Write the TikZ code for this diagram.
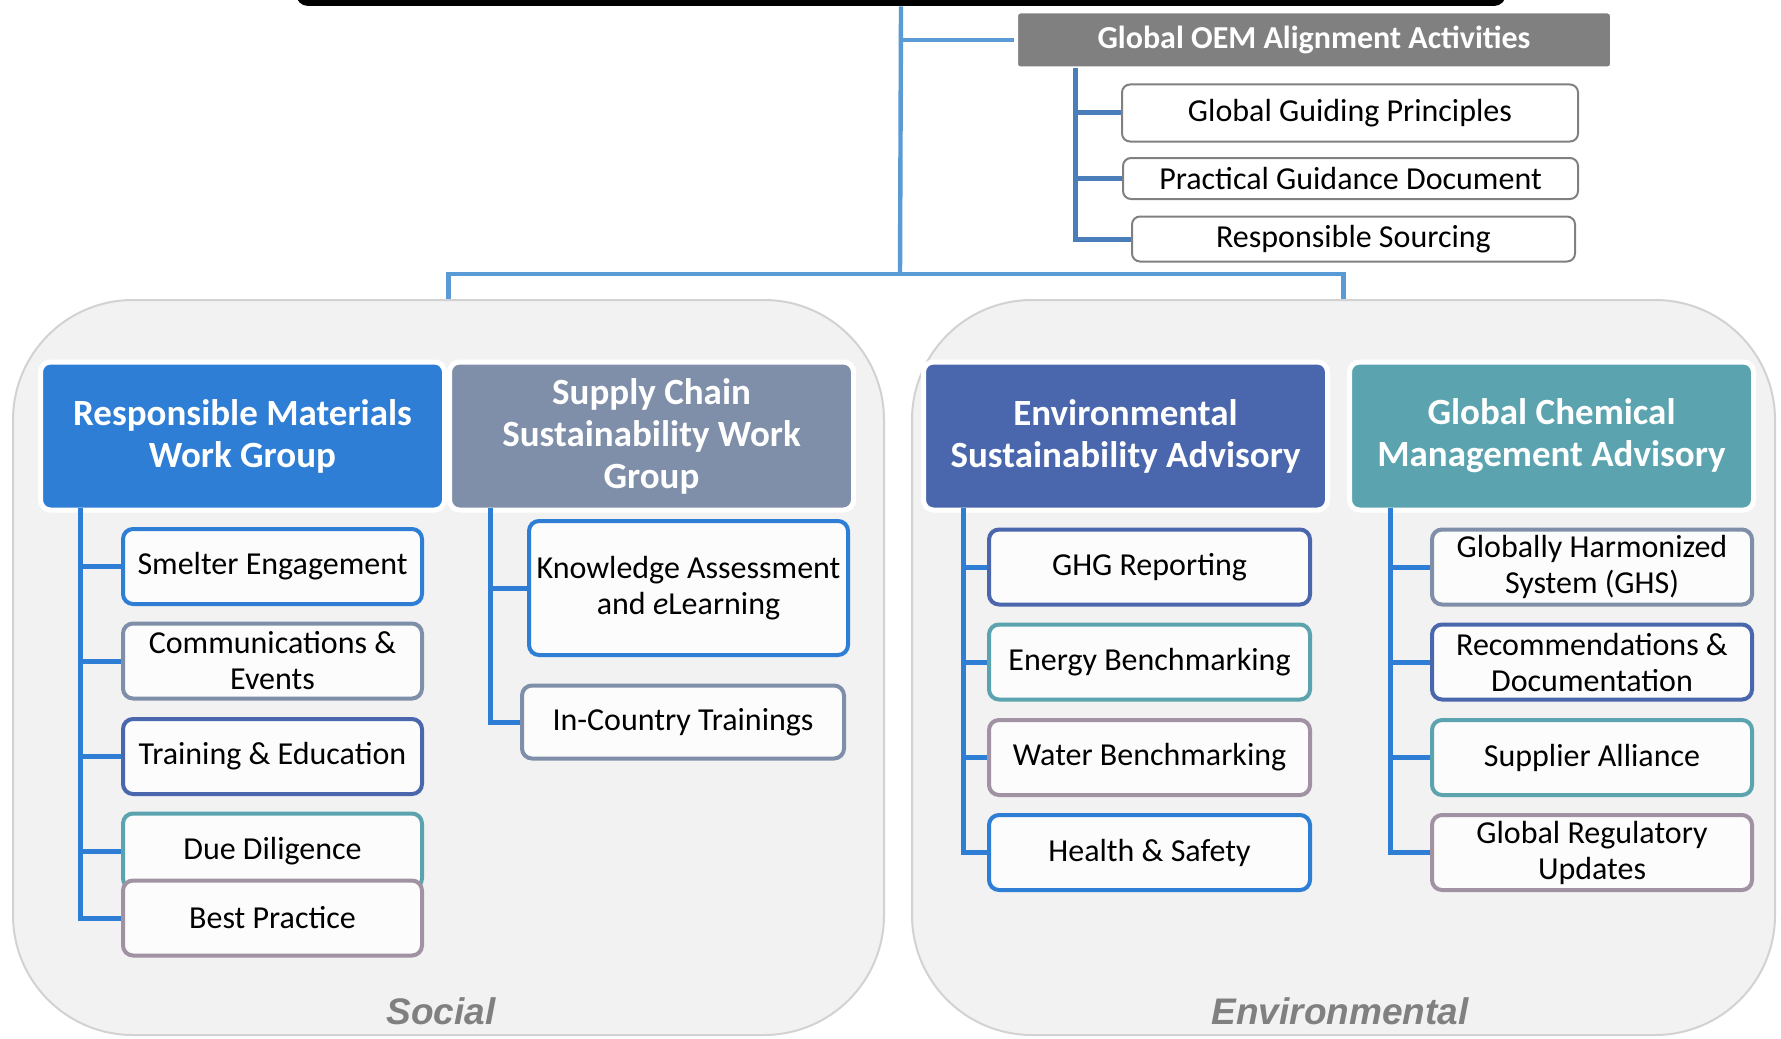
\documentclass[tikz,border=0pt]{standalone}
\usepackage{fontspec}
\setmainfont{Carlito}
\newfontfamily\lblfont{Liberation Sans}
\definecolor{cblue}{HTML}{2E7ED6}
\definecolor{cslate}{HTML}{7F8FA9}
\definecolor{cindigo}{HTML}{4A66AC}
\definecolor{cteal}{HTML}{5BA3AE}
\definecolor{cmauve}{HTML}{A092A3}
\definecolor{clink}{HTML}{5B9BD5}
\definecolor{csteel}{HTML}{4A7EBB}
\definecolor{cpanel}{HTML}{F2F2F2}
\definecolor{cpanelrim}{HTML}{D2D2D2}
\definecolor{cgray}{HTML}{808080}
\definecolor{cboxfill}{HTML}{FCFCFC}
\begin{document}
\begin{tikzpicture}[x=0.5pt,y=-0.5pt,
  panelbox/.style={fill=cpanel, draw=cpanelrim, line width=1pt, rounded corners=60pt, inner sep=0pt},
  headbox/.style={fill=#1, draw=white, line width=2.5pt, rounded corners=5pt, minimum width=202pt, minimum height=74pt,
     text=white, font=\bfseries\fontsize{18.5}{21}\selectfont, align=center, inner sep=0pt},
  itembox/.style={draw=#1, line width=2pt, fill=cboxfill, rounded corners=5pt, minimum height=37.5pt,
     text=black, font=\fontsize{16}{18}\selectfont, align=center, inner sep=0pt},
  oemitem/.style={draw=cgray, line width=1pt, fill=white, rounded corners=4pt,
     text=black, font=\fontsize{16}{18}\selectfont, align=center, inner sep=0pt},
  linkline/.style={draw=clink, line width=2.2pt},
  steelline/.style={draw=csteel, line width=2.5pt},
  treeline/.style={draw=cblue, line width=2.5pt},
  sidelabel/.style={text=cgray, font=\lblfont\bfseries\itshape\fontsize{18.5}{20}\selectfont, inner sep=0pt, anchor=base}
]
\useasboundingbox (0,0) rectangle (1781,1038);
\clip (0,0) rectangle (1781,1038);
\fill[white] (0,0) rectangle (1781,1038);

% top bar
\node[fill=black, rounded corners=6pt, minimum width=605pt, minimum height=30pt, inner sep=0pt] (root) at (901,-24) {};

% panels
\node[panelbox, minimum width=435.5pt, minimum height=367.5pt] (social) at (448.5,667.5) {};
\node[panelbox, minimum width=431.5pt, minimum height=367.5pt] (env) at (1343.5,667.5) {};

% OEM block
\node[fill=cgray, draw=white, line width=2pt, rounded corners=2pt, minimum width=298pt, minimum height=28.5pt,
      text=white, font=\bfseries\fontsize{16}{18}\selectfont, inner sep=0pt] (oem) at (1314,40) {Global OEM Alignment Activities};
\node[oemitem, minimum width=228pt, minimum height=28.5pt] (ggp) at (1350,113) {Global Guiding Principles};
\node[oemitem, minimum width=227.5pt, minimum height=20.5pt] (pgd) at (1350.5,178.5) {Practical Guidance Document};
\node[oemitem, minimum width=221.5pt, minimum height=22.5pt] (rs) at (1353.5,239) {Responsible Sourcing};

% main connectors
\coordinate (hb) at (900,274);
\coordinate (oemb) at (1075,68);
\draw[linkline] (root.south) -- (hb);
\draw[linkline] (root.south |- oem.west) -- (oem.west);
\draw[linkline] (social.north) -- (social.north |- hb) -- (env.north |- hb) -- (env.north);
\draw[steelline] (oemb) |- (rs.west);
\draw[steelline] (oemb |- ggp.west) -- (ggp.west);
\draw[steelline] (oemb |- pgd.west) -- (pgd.west);

% headers
\node[headbox=cblue] (rm) at (242.5,436) {Responsible Materials\\Work Group};
\node[headbox=cslate] (sc) at (651.5,436) {Supply Chain\\Sustainability Work\\Group};
\node[headbox=cindigo] (es) at (1125.5,436) {Environmental\\Sustainability Advisory};
\node[headbox=cteal] (gc) at (1551.5,436) {Global Chemical\\Management Advisory};

% bracket anchors
\coordinate (rmb) at (80,508);
\coordinate (scb) at (490,508);
\coordinate (esb) at (963,508);
\coordinate (gcb) at (1390,508);

% RMWG items
\node[itembox=cblue, minimum width=149.5pt] (sm) at (272.5,566.5) {Smelter Engagement};
\node[itembox=cslate, minimum width=149.5pt] (ce) at (272.5,661) {Communications \&\\Events};
\node[itembox=cindigo, minimum width=149.5pt] (te) at (272.5,756.5) {Training \& Education};
\node[itembox=cteal, minimum width=149.5pt] (dd) at (272.5,851) {Due Diligence};
\node[itembox=cmauve, minimum width=149.5pt] (bp) at (272.5,918) {Best Practice};
\draw[treeline] (rmb) |- (bp.west);
\foreach \n in {sm,ce,te,dd} \draw[treeline] (rmb |- \n.west) -- (\n.west);

% SCSWG items
\node[itembox=cblue, minimum width=159.5pt, minimum height=67pt] (ka) at (688.5,588) {Knowledge Assessment\\and \emph{e}Learning};
\node[itembox=cslate, minimum width=161pt, minimum height=36.5pt] (ic) at (683,722) {In-Country Trainings};
\draw[treeline] (scb) |- (ic.west);
\draw[treeline] (scb |- ka.west) -- (ka.west);

% ESA items
\node[itembox=cindigo, minimum width=160.5pt] (ghg) at (1149.5,567) {GHG Reporting};
\node[itembox=cteal, minimum width=160.5pt] (eb) at (1149.5,662) {Energy Benchmarking};
\node[itembox=cmauve, minimum width=160.5pt] (wb) at (1149.5,757.5) {Water Benchmarking};
\node[itembox=cblue, minimum width=160.5pt] (hs) at (1149.5,852.5) {Health \& Safety};
\draw[treeline] (esb) |- (hs.west);
\foreach \n in {ghg,eb,wb} \draw[treeline] (esb |- \n.west) -- (\n.west);

% GCMA items
\node[itembox=cslate, minimum width=160pt] (ghs) at (1592,567) {Globally Harmonized\\System (GHS)};
\node[itembox=cindigo, minimum width=160pt] (rd) at (1592,662) {Recommendations \&\\Documentation};
\node[itembox=cteal, minimum width=160pt] (sa) at (1592,757.5) {Supplier Alliance};
\node[itembox=cmauve, minimum width=160pt] (gr) at (1592,852.5) {Global Regulatory\\Updates};
\draw[treeline] (gcb) |- (gr.west);
\foreach \n in {ghs,rd,sa} \draw[treeline] (gcb |- \n.west) -- (\n.west);

% side labels
\node[sidelabel] (soclbl) at (441,1024) {Social};
\node[sidelabel] (envlbl) at (1340,1024) {Environmental};
\end{tikzpicture}
\end{document}
